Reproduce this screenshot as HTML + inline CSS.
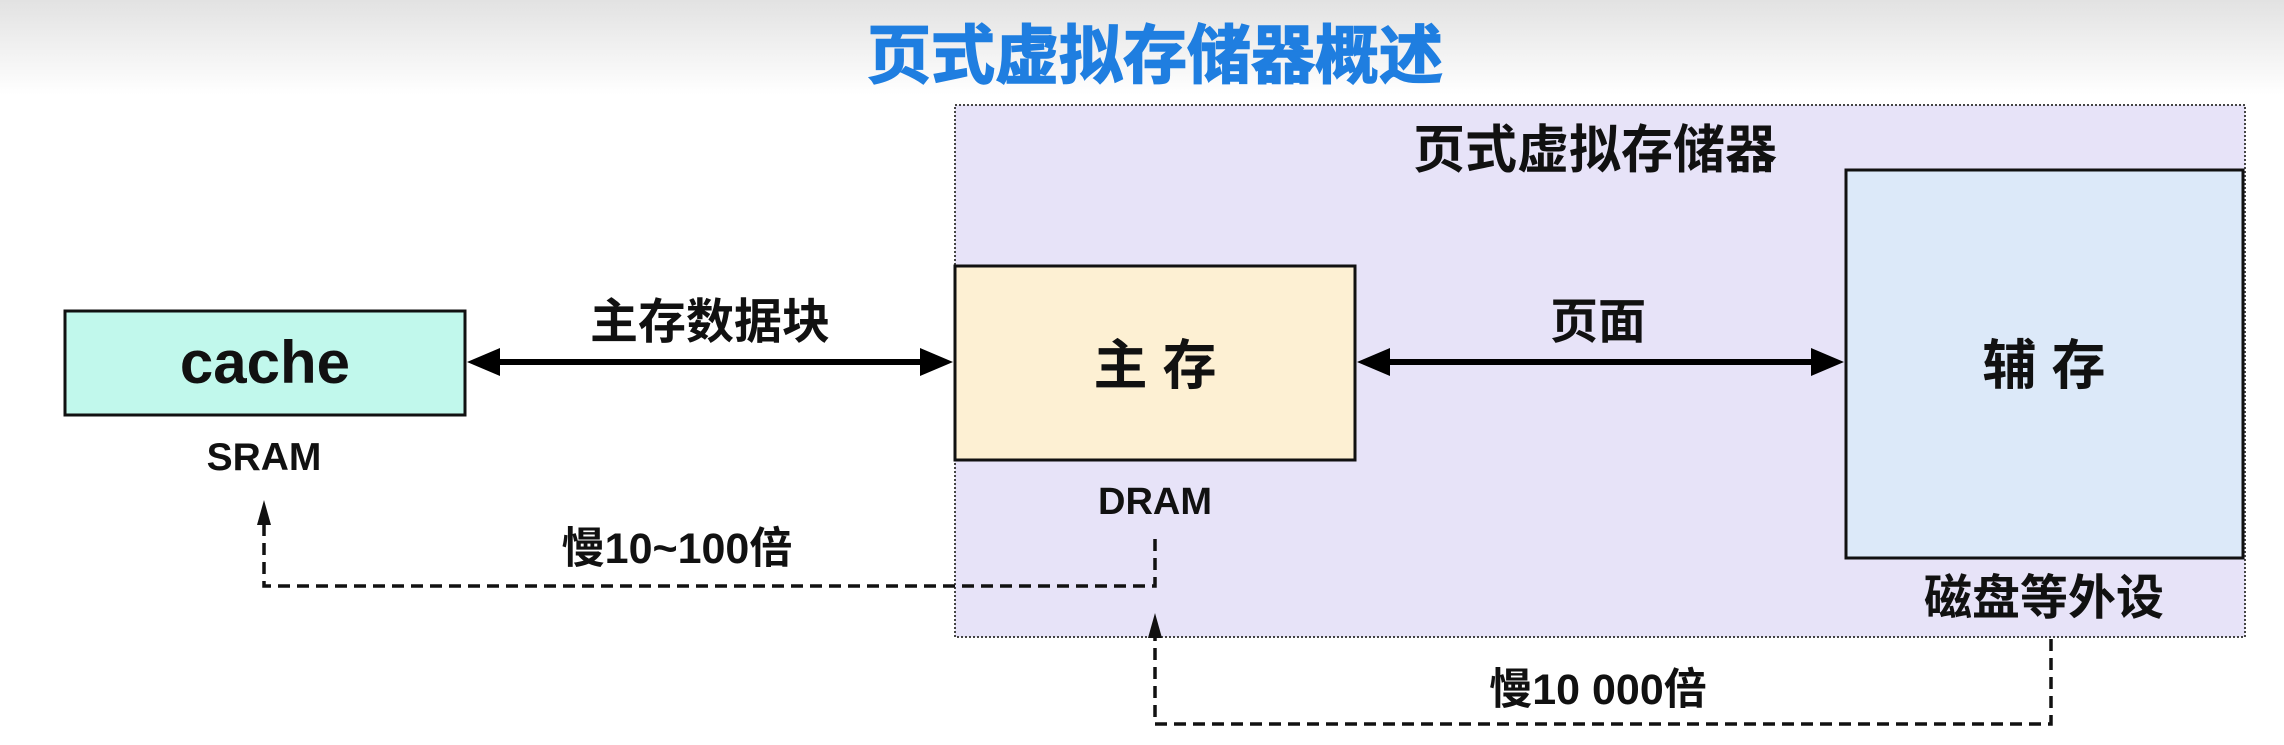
<!DOCTYPE html>
<html><head><meta charset="utf-8"><style>
html,body{margin:0;padding:0;background:#fff;}
svg{display:block;}
text{font-family:"Liberation Sans","Noto Sans CJK SC",sans-serif;font-weight:bold;}
</style></head><body>
<svg width="2284" height="745" viewBox="0 0 2284 745" xmlns="http://www.w3.org/2000/svg">
<defs>
<linearGradient id="g" x1="0" y1="0" x2="0" y2="1">
<stop offset="0" stop-color="#e2e2e2"/><stop offset="1" stop-color="#ffffff"/>
</linearGradient>
</defs>
<rect x="0" y="0" width="2284" height="95" fill="url(#g)"/>
<text x="1155" y="78" font-size="64" fill="#1f7ee0" text-anchor="middle" stroke="#1f7ee0" stroke-width="1.5">页式虚拟存储器概述</text>

<rect x="955" y="105" width="1290" height="532" fill="#e7e3f8" stroke="#444" stroke-width="2" stroke-dasharray="2,2"/>
<text x="1595" y="168" font-size="52" fill="#111" text-anchor="middle">页式虚拟存储器</text>

<rect x="65" y="311" width="400" height="104" fill="#c1f8ec" stroke="#111" stroke-width="3"/>
<text x="265" y="383" font-size="60" fill="#111" text-anchor="middle">cache</text>
<text x="264" y="470" font-size="39" fill="#111" text-anchor="middle">SRAM</text>

<rect x="955" y="266" width="400" height="194" fill="#fdf0d3" stroke="#111" stroke-width="3"/>
<text x="1155" y="384" font-size="54" fill="#111" text-anchor="middle">主  存</text>
<text x="1155" y="514" font-size="38" fill="#111" text-anchor="middle">DRAM</text>

<rect x="1846" y="170" width="397" height="388" fill="#dce9f9" stroke="#111" stroke-width="3"/>
<text x="2044" y="384" font-size="54" fill="#111" text-anchor="middle">辅  存</text>
<text x="2044" y="614" font-size="48" fill="#111" text-anchor="middle">磁盘等外设</text>

<line x1="490" y1="362" x2="930" y2="362" stroke="#000" stroke-width="6"/>
<polygon points="467,362 500,348 500,376" fill="#000"/>
<polygon points="953,362 920,348 920,376" fill="#000"/>
<text x="710" y="338" font-size="48" fill="#111" text-anchor="middle">主存数据块</text>

<line x1="1380" y1="362" x2="1820" y2="362" stroke="#000" stroke-width="6"/>
<polygon points="1357,362 1390,348 1390,376" fill="#000"/>
<polygon points="1844,362 1811,348 1811,376" fill="#000"/>
<text x="1598" y="338" font-size="48" fill="#111" text-anchor="middle">页面</text>

<polyline points="1155,539 1155,586 264,586 264,520" fill="none" stroke="#111" stroke-width="3.5" stroke-dasharray="12,7"/>
<polygon points="264,500 257,525 271,525" fill="#111"/>
<text x="677" y="563" font-size="43" fill="#111" text-anchor="middle">慢10~100倍</text>

<polyline points="2051,639 2051,724 1155,724 1155,632" fill="none" stroke="#111" stroke-width="3.5" stroke-dasharray="12,7"/>
<polygon points="1155,613 1148,638 1162,638" fill="#111"/>
<text x="1598" y="704" font-size="43" fill="#111" text-anchor="middle">慢10 000倍</text>
</svg>
</body></html>
